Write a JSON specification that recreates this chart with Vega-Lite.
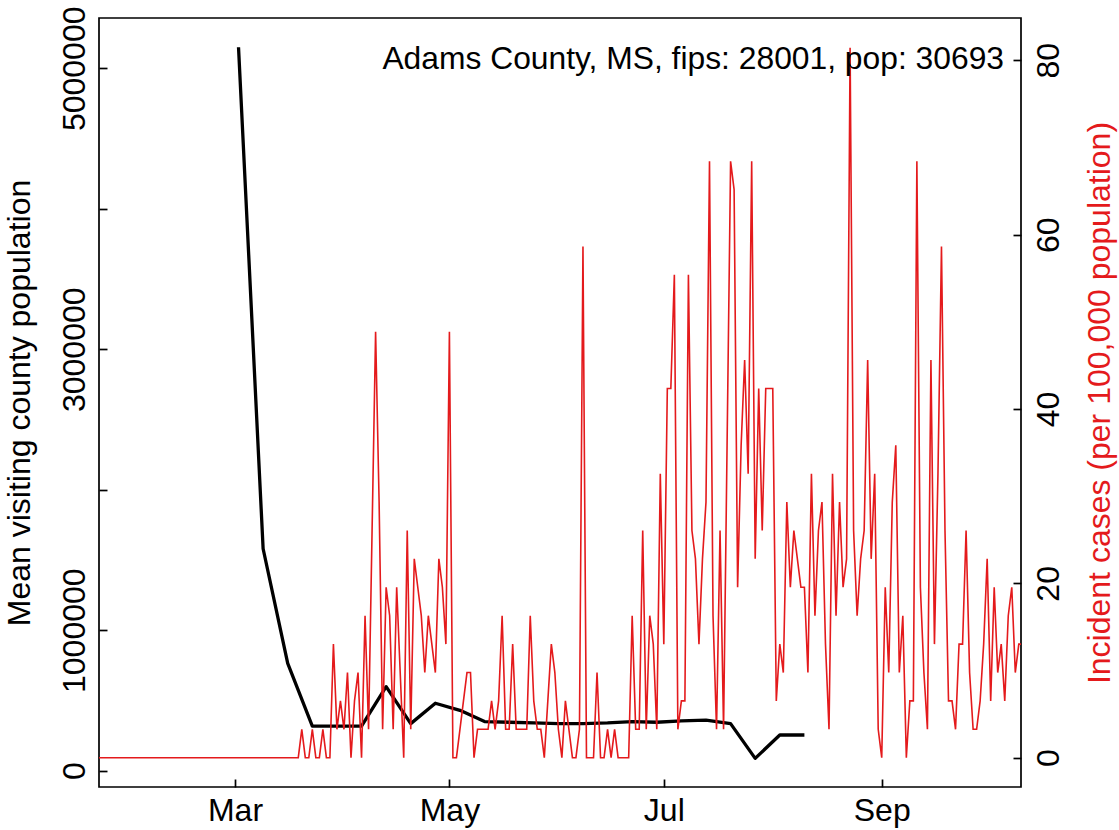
{
  "$schema": "https://vega.github.io/schema/vega-lite/v6.json",
  "width": 922,
  "height": 769,
  "autosize": {"type": "none"},
  "padding": {"left": 99, "top": 18, "right": 98, "bottom": 43},
  "background": "white",
  "config": {
    "font": "Liberation Sans",
    "view": {"stroke": "black", "strokeWidth": 1.7},
    "axis": {
      "labelFont": "Liberation Sans", "labelFontSize": 32, "labelColor": "black",
      "titleFont": "Liberation Sans", "titleFontSize": 32, "titleFontWeight": "normal", "titleColor": "black",
      "tickColor": "black", "tickWidth": 1.7, "tickSize": -8,
      "domain": false, "grid": false, "labelOverlap": false, "labelBound": false, "labelFlush": false
    }
  },
  "title": {
    "text": "Adams County, MS, fips: 28001, pop: 30693",
    "anchor": "end", "frame": "group", "orient": "top",
    "font": "Liberation Sans", "fontSize": 31.8, "fontWeight": "normal", "color": "black",
    "baseline": "alphabetic", "offset": 0, "dx": -17, "dy": 95
  },
  "layer": [
    {
      "data": {"values": [
        {"date": "2020-03-02", "v": 5150000},
        {"date": "2020-03-09", "v": 1580000},
        {"date": "2020-03-16", "v": 764000},
        {"date": "2020-03-23", "v": 318000},
        {"date": "2020-03-30", "v": 318000},
        {"date": "2020-04-06", "v": 318000},
        {"date": "2020-04-13", "v": 598000},
        {"date": "2020-04-20", "v": 335000},
        {"date": "2020-04-27", "v": 480000},
        {"date": "2020-05-04", "v": 430000},
        {"date": "2020-05-11", "v": 350000},
        {"date": "2020-05-18", "v": 345000},
        {"date": "2020-05-25", "v": 340000},
        {"date": "2020-06-01", "v": 335000},
        {"date": "2020-06-08", "v": 335000},
        {"date": "2020-06-15", "v": 340000},
        {"date": "2020-06-22", "v": 350000},
        {"date": "2020-06-29", "v": 345000},
        {"date": "2020-07-06", "v": 355000},
        {"date": "2020-07-13", "v": 360000},
        {"date": "2020-07-20", "v": 335000},
        {"date": "2020-07-27", "v": 88000},
        {"date": "2020-08-03", "v": 254000},
        {"date": "2020-08-10", "v": 254000}
      ]},
      "mark": {"type": "line", "color": "black", "strokeWidth": 3.3, "clip": true, "strokeJoin": "round"},
      "encoding": {
        "x": {"field": "date", "type": "temporal",
          "scale": {"type": "utc", "domain": [{"year": 2020, "month": 1, "date": 22, "hours": 7, "minutes": 20, "utc": true}, {"year": 2020, "month": 10, "date": 10, "hours": 15, "utc": true}]},
          "axis": {"title": null, "orient": "bottom", "format": "%b",
            "values": [{"year": 2020, "month": 3, "date": 1, "utc": true}, {"year": 2020, "month": 5, "date": 1, "utc": true}, {"year": 2020, "month": 7, "date": 1, "utc": true}, {"year": 2020, "month": 9, "date": 1, "utc": true}],
            "labelPadding": 16.5, "labelAlign": "center", "labelBaseline": "top"}},
        "y": {"field": "v", "type": "quantitative",
          "scale": {"domain": [-116000, 5358000], "nice": false, "zero": false},
          "axis": {"orient": "left", "title": "Mean visiting county population",
            "values": [0, 1000000, 2000000, 3000000, 4000000, 5000000],
            "labelExpr": "datum.value == 2000000 || datum.value == 4000000 ? '' : format(datum.value, 'd')",
            "labelAngle": -90, "labelAlign": "center", "labelBaseline": "bottom", "labelPadding": 16,
            "titleAngle": -90, "titleBaseline": "bottom", "titlePadding": 22}}
      }
    },
    {
      "data": {"values": [
        {"date": "2020-01-21", "v": 0}, {"date": "2020-01-22", "v": 0}, {"date": "2020-01-23", "v": 0}, {"date": "2020-01-24", "v": 0}, {"date": "2020-01-25", "v": 0}, {"date": "2020-01-26", "v": 0}, {"date": "2020-01-27", "v": 0}, {"date": "2020-01-28", "v": 0}, {"date": "2020-01-29", "v": 0}, {"date": "2020-01-30", "v": 0}, {"date": "2020-01-31", "v": 0},
        {"date": "2020-02-01", "v": 0}, {"date": "2020-02-02", "v": 0}, {"date": "2020-02-03", "v": 0}, {"date": "2020-02-04", "v": 0}, {"date": "2020-02-05", "v": 0}, {"date": "2020-02-06", "v": 0}, {"date": "2020-02-07", "v": 0}, {"date": "2020-02-08", "v": 0}, {"date": "2020-02-09", "v": 0}, {"date": "2020-02-10", "v": 0}, {"date": "2020-02-11", "v": 0}, {"date": "2020-02-12", "v": 0}, {"date": "2020-02-13", "v": 0}, {"date": "2020-02-14", "v": 0}, {"date": "2020-02-15", "v": 0}, {"date": "2020-02-16", "v": 0}, {"date": "2020-02-17", "v": 0}, {"date": "2020-02-18", "v": 0}, {"date": "2020-02-19", "v": 0}, {"date": "2020-02-20", "v": 0}, {"date": "2020-02-21", "v": 0}, {"date": "2020-02-22", "v": 0}, {"date": "2020-02-23", "v": 0}, {"date": "2020-02-24", "v": 0}, {"date": "2020-02-25", "v": 0}, {"date": "2020-02-26", "v": 0}, {"date": "2020-02-27", "v": 0}, {"date": "2020-02-28", "v": 0}, {"date": "2020-02-29", "v": 0},
        {"date": "2020-03-01", "v": 0}, {"date": "2020-03-02", "v": 0}, {"date": "2020-03-03", "v": 0}, {"date": "2020-03-04", "v": 0}, {"date": "2020-03-05", "v": 0}, {"date": "2020-03-06", "v": 0}, {"date": "2020-03-07", "v": 0}, {"date": "2020-03-08", "v": 0}, {"date": "2020-03-09", "v": 0}, {"date": "2020-03-10", "v": 0}, {"date": "2020-03-11", "v": 0}, {"date": "2020-03-12", "v": 0}, {"date": "2020-03-13", "v": 0}, {"date": "2020-03-14", "v": 0}, {"date": "2020-03-15", "v": 0}, {"date": "2020-03-16", "v": 0}, {"date": "2020-03-17", "v": 0}, {"date": "2020-03-18", "v": 0}, {"date": "2020-03-19", "v": 0},
        {"date": "2020-03-20", "v": 3.26}, {"date": "2020-03-21", "v": 0}, {"date": "2020-03-22", "v": 0}, {"date": "2020-03-23", "v": 3.26}, {"date": "2020-03-24", "v": 0}, {"date": "2020-03-25", "v": 0}, {"date": "2020-03-26", "v": 3.26}, {"date": "2020-03-27", "v": 0}, {"date": "2020-03-28", "v": 0}, {"date": "2020-03-29", "v": 13.03}, {"date": "2020-03-30", "v": 3.26}, {"date": "2020-03-31", "v": 6.52},
        {"date": "2020-04-01", "v": 3.26}, {"date": "2020-04-02", "v": 9.77}, {"date": "2020-04-03", "v": 0}, {"date": "2020-04-04", "v": 6.52}, {"date": "2020-04-05", "v": 9.77}, {"date": "2020-04-06", "v": 0}, {"date": "2020-04-07", "v": 16.29}, {"date": "2020-04-08", "v": 3.26}, {"date": "2020-04-09", "v": 26.06}, {"date": "2020-04-10", "v": 48.87}, {"date": "2020-04-11", "v": 29.32}, {"date": "2020-04-12", "v": 3.26}, {"date": "2020-04-13", "v": 19.55}, {"date": "2020-04-14", "v": 16.29}, {"date": "2020-04-15", "v": 3.26}, {"date": "2020-04-16", "v": 19.55}, {"date": "2020-04-17", "v": 9.77}, {"date": "2020-04-18", "v": 0}, {"date": "2020-04-19", "v": 26.06}, {"date": "2020-04-20", "v": 3.26}, {"date": "2020-04-21", "v": 22.81}, {"date": "2020-04-22", "v": 19.55}, {"date": "2020-04-23", "v": 16.29}, {"date": "2020-04-24", "v": 9.77}, {"date": "2020-04-25", "v": 16.29}, {"date": "2020-04-26", "v": 13.03}, {"date": "2020-04-27", "v": 9.77}, {"date": "2020-04-28", "v": 22.81}, {"date": "2020-04-29", "v": 19.55}, {"date": "2020-04-30", "v": 13.03},
        {"date": "2020-05-01", "v": 48.87}, {"date": "2020-05-02", "v": 0}, {"date": "2020-05-03", "v": 0}, {"date": "2020-05-04", "v": 3.26}, {"date": "2020-05-05", "v": 6.52}, {"date": "2020-05-06", "v": 9.77}, {"date": "2020-05-07", "v": 9.77}, {"date": "2020-05-08", "v": 0}, {"date": "2020-05-09", "v": 3.26}, {"date": "2020-05-10", "v": 3.26}, {"date": "2020-05-11", "v": 3.26}, {"date": "2020-05-12", "v": 3.26}, {"date": "2020-05-13", "v": 6.52}, {"date": "2020-05-14", "v": 3.26}, {"date": "2020-05-15", "v": 6.52}, {"date": "2020-05-16", "v": 16.29}, {"date": "2020-05-17", "v": 3.26}, {"date": "2020-05-18", "v": 3.26}, {"date": "2020-05-19", "v": 13.03}, {"date": "2020-05-20", "v": 3.26}, {"date": "2020-05-21", "v": 3.26}, {"date": "2020-05-22", "v": 3.26}, {"date": "2020-05-23", "v": 3.26}, {"date": "2020-05-24", "v": 16.29}, {"date": "2020-05-25", "v": 6.52}, {"date": "2020-05-26", "v": 3.26}, {"date": "2020-05-27", "v": 3.26}, {"date": "2020-05-28", "v": 0}, {"date": "2020-05-29", "v": 6.52}, {"date": "2020-05-30", "v": 13.03}, {"date": "2020-05-31", "v": 9.77},
        {"date": "2020-06-01", "v": 3.26}, {"date": "2020-06-02", "v": 0}, {"date": "2020-06-03", "v": 6.52}, {"date": "2020-06-04", "v": 3.26}, {"date": "2020-06-05", "v": 0}, {"date": "2020-06-06", "v": 0}, {"date": "2020-06-07", "v": 3.26}, {"date": "2020-06-08", "v": 58.65}, {"date": "2020-06-09", "v": 0}, {"date": "2020-06-10", "v": 0}, {"date": "2020-06-11", "v": 0}, {"date": "2020-06-12", "v": 9.77}, {"date": "2020-06-13", "v": 0}, {"date": "2020-06-14", "v": 0}, {"date": "2020-06-15", "v": 3.26}, {"date": "2020-06-16", "v": 0}, {"date": "2020-06-17", "v": 3.26}, {"date": "2020-06-18", "v": 0}, {"date": "2020-06-19", "v": 0}, {"date": "2020-06-20", "v": 0}, {"date": "2020-06-21", "v": 0}, {"date": "2020-06-22", "v": 16.29}, {"date": "2020-06-23", "v": 3.26}, {"date": "2020-06-24", "v": 3.26}, {"date": "2020-06-25", "v": 26.06}, {"date": "2020-06-26", "v": 3.26}, {"date": "2020-06-27", "v": 16.29}, {"date": "2020-06-28", "v": 13.03}, {"date": "2020-06-29", "v": 3.26}, {"date": "2020-06-30", "v": 32.58},
        {"date": "2020-07-01", "v": 13.03}, {"date": "2020-07-02", "v": 42.35}, {"date": "2020-07-03", "v": 42.35}, {"date": "2020-07-04", "v": 55.39}, {"date": "2020-07-05", "v": 3.26}, {"date": "2020-07-06", "v": 6.52}, {"date": "2020-07-07", "v": 6.52}, {"date": "2020-07-08", "v": 55.39}, {"date": "2020-07-09", "v": 26.06}, {"date": "2020-07-10", "v": 22.81}, {"date": "2020-07-11", "v": 13.03}, {"date": "2020-07-12", "v": 22.81}, {"date": "2020-07-13", "v": 29.32}, {"date": "2020-07-14", "v": 68.42}, {"date": "2020-07-15", "v": 16.29}, {"date": "2020-07-16", "v": 3.26}, {"date": "2020-07-17", "v": 26.06}, {"date": "2020-07-18", "v": 3.26}, {"date": "2020-07-19", "v": 35.84}, {"date": "2020-07-20", "v": 68.42}, {"date": "2020-07-21", "v": 65.16}, {"date": "2020-07-22", "v": 19.55}, {"date": "2020-07-23", "v": 35.84}, {"date": "2020-07-24", "v": 45.61}, {"date": "2020-07-25", "v": 32.58}, {"date": "2020-07-26", "v": 68.42}, {"date": "2020-07-27", "v": 22.81}, {"date": "2020-07-28", "v": 42.35}, {"date": "2020-07-29", "v": 26.06}, {"date": "2020-07-30", "v": 42.35}, {"date": "2020-07-31", "v": 42.35},
        {"date": "2020-08-01", "v": 42.35}, {"date": "2020-08-02", "v": 6.52}, {"date": "2020-08-03", "v": 13.03}, {"date": "2020-08-04", "v": 9.77}, {"date": "2020-08-05", "v": 29.32}, {"date": "2020-08-06", "v": 19.55}, {"date": "2020-08-07", "v": 26.06}, {"date": "2020-08-08", "v": 22.81}, {"date": "2020-08-09", "v": 19.55}, {"date": "2020-08-10", "v": 19.55}, {"date": "2020-08-11", "v": 9.77}, {"date": "2020-08-12", "v": 32.58}, {"date": "2020-08-13", "v": 16.29}, {"date": "2020-08-14", "v": 26.06}, {"date": "2020-08-15", "v": 29.32}, {"date": "2020-08-16", "v": 13.03}, {"date": "2020-08-17", "v": 3.26}, {"date": "2020-08-18", "v": 32.58}, {"date": "2020-08-19", "v": 16.29}, {"date": "2020-08-20", "v": 29.32}, {"date": "2020-08-21", "v": 19.55}, {"date": "2020-08-22", "v": 22.81}, {"date": "2020-08-23", "v": 81.45}, {"date": "2020-08-24", "v": 26.06}, {"date": "2020-08-25", "v": 16.29}, {"date": "2020-08-26", "v": 22.81}, {"date": "2020-08-27", "v": 26.06}, {"date": "2020-08-28", "v": 45.61}, {"date": "2020-08-29", "v": 22.81}, {"date": "2020-08-30", "v": 32.58}, {"date": "2020-08-31", "v": 3.26},
        {"date": "2020-09-01", "v": 0}, {"date": "2020-09-02", "v": 19.55}, {"date": "2020-09-03", "v": 9.77}, {"date": "2020-09-04", "v": 29.32}, {"date": "2020-09-05", "v": 35.84}, {"date": "2020-09-06", "v": 9.77}, {"date": "2020-09-07", "v": 16.29}, {"date": "2020-09-08", "v": 0}, {"date": "2020-09-09", "v": 6.52}, {"date": "2020-09-10", "v": 6.52}, {"date": "2020-09-11", "v": 68.42}, {"date": "2020-09-12", "v": 19.55}, {"date": "2020-09-13", "v": 9.77}, {"date": "2020-09-14", "v": 3.26}, {"date": "2020-09-15", "v": 45.61}, {"date": "2020-09-16", "v": 13.03}, {"date": "2020-09-17", "v": 32.58}, {"date": "2020-09-18", "v": 58.65}, {"date": "2020-09-19", "v": 26.06}, {"date": "2020-09-20", "v": 6.52}, {"date": "2020-09-21", "v": 6.52}, {"date": "2020-09-22", "v": 3.26}, {"date": "2020-09-23", "v": 13.03}, {"date": "2020-09-24", "v": 13.03}, {"date": "2020-09-25", "v": 26.06}, {"date": "2020-09-26", "v": 9.77}, {"date": "2020-09-27", "v": 3.26}, {"date": "2020-09-28", "v": 3.26}, {"date": "2020-09-29", "v": 6.52}, {"date": "2020-09-30", "v": 13.03},
        {"date": "2020-10-01", "v": 22.81}, {"date": "2020-10-02", "v": 6.52}, {"date": "2020-10-03", "v": 19.55}, {"date": "2020-10-04", "v": 9.77}, {"date": "2020-10-05", "v": 13.03}, {"date": "2020-10-06", "v": 6.52}, {"date": "2020-10-07", "v": 16.29}, {"date": "2020-10-08", "v": 19.55}, {"date": "2020-10-09", "v": 9.77}, {"date": "2020-10-10", "v": 13.03}, {"date": "2020-10-11", "v": 13.03}
      ]},
      "mark": {"type": "line", "color": "#E41A1C", "strokeWidth": 1.6, "clip": true},
      "encoding": {
        "x": {"field": "date", "type": "temporal",
          "scale": {"type": "utc", "domain": [{"year": 2020, "month": 1, "date": 22, "hours": 7, "minutes": 20, "utc": true}, {"year": 2020, "month": 10, "date": 10, "hours": 15, "utc": true}]},
          "axis": {"title": null, "orient": "bottom", "format": "%b",
            "values": [{"year": 2020, "month": 3, "date": 1, "utc": true}, {"year": 2020, "month": 5, "date": 1, "utc": true}, {"year": 2020, "month": 7, "date": 1, "utc": true}, {"year": 2020, "month": 9, "date": 1, "utc": true}],
            "labelPadding": 16.5, "labelAlign": "center", "labelBaseline": "top"}},
        "y": {"field": "v", "type": "quantitative",
          "scale": {"domain": [-3.36, 84.85], "nice": false, "zero": false},
          "axis": {"orient": "right", "title": "Incident cases (per 100,000 population)",
            "values": [0, 20, 40, 60, 80], "format": "d",
            "labelAngle": -90, "labelAlign": "center", "labelBaseline": "top", "labelPadding": 20,
            "titleAngle": -90, "titleBaseline": "top", "titlePadding": 20, "titleColor": "#E41A1C"}}
      }
    }
  ],
  "resolve": {"scale": {"y": "independent"}}
}
